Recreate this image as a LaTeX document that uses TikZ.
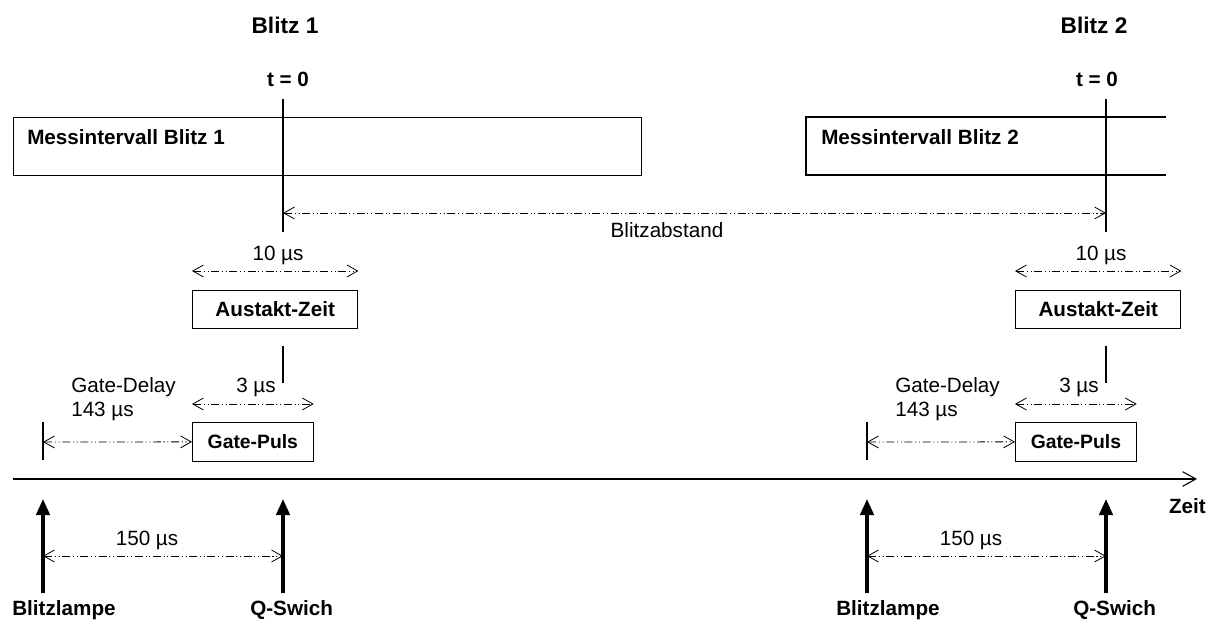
\documentclass[tikz,border=0pt]{standalone}
\usepackage{fontspec}
\setmainfont{Liberation Sans}
\usetikzlibrary{arrows.meta,positioning,calc}

\begin{document}
\begin{tikzpicture}[x=0.75pt,y=-0.75pt,
titel/.style={font=\fontsize{17}{20}\selectfont\bfseries,inner sep=0pt,anchor=base},
fett/.style={font=\fontsize{15.5}{18}\selectfont\bfseries,inner sep=0pt},
normal/.style={font=\fontsize{15.5}{18}\selectfont,inner sep=0pt},
kasten/.style={draw,line width=0.8pt,font=\fontsize{15.5}{18}\selectfont\bfseries,inner sep=0pt,anchor=north west},
linie/.style={line width=0.8pt},
mass/.style={{Straight Barb[length=8pt,width=9pt]}-{Straight Barb[length=8pt,width=9pt]},line width=0.6pt,dash pattern=on 6pt off 2pt on 0.8pt off 2pt on 0.8pt off 2pt},
achse/.style={-{Straight Barb[length=10pt,width=11pt]},line width=0.8pt},
puls/.style={-{Triangle[length=12pt,width=10pt]},line width=2.5pt}
]
\useasboundingbox (0,0) rectangle (1207,624);

% Kopfzeile
\node[titel] (blitz1) at (285,34) {Blitz 1};
\node[titel] (blitz2) at (1094,34) {Blitz 2};
\node[fett,anchor=base] (tnull1) at (288,87) {t = 0};
\node[fett,anchor=base] (tnull2) at (1097,87) {t = 0};

% Messintervalle
\node[kasten,minimum width=471pt,minimum height=43.5pt] (mess1) at (13,117) {};
\node[fett,anchor=base west] (messtext1) at (27,145) {Messintervall Blitz 1};
\coordinate (mess2a) at (1166,117);
\coordinate (mess2b) at (806,175);
\coordinate (mess2c) at (1166,175);
\draw[linie] (mess2a) -| (mess2b) -- (mess2c);
\node[fett,anchor=base west] (messtext2) at (821,145) {Messintervall Blitz 2};

% Zeitachse
\coordinate (achse0) at (13,479);
\coordinate (achse1) at (1197,479);
\draw[achse] (achse0) -- (achse1);
\node[fett,anchor=base east] (zeit) at (1206,513) {Zeit};

% beide Blitze
\foreach \i/\q/\l in {1/283/43,2/1106/867}{
  \coordinate (toben\i) at (\q,99);
  \coordinate (tunten\i) at (\q,232);
  \draw[linie] (toben\i) -- (tunten\i);
  \coordinate (abst\i) at (\q,213);

  \node[kasten,minimum width=124pt,minimum height=28.5pt] (austakt\i) at (\q-91,290) {Austakt-Zeit};
  \coordinate (zehnA\i) at ($(austakt\i.north west)+(0,-19)$);
  \coordinate (zehnB\i) at ($(austakt\i.north east)+(0,-19)$);
  \draw[mass] (zehnA\i) -- (zehnB\i);
  \node[normal,anchor=base] (zehn\i) at (\q-5,260) {10 µs};

  \coordinate (strichA\i) at (\q,346);
  \coordinate (strichB\i) at (\q,383);
  \draw[linie] (strichA\i) -- (strichB\i);

  \node[kasten,minimum width=90.5pt,minimum height=29pt,font=\fontsize{14.5}{18}\selectfont\bfseries] (gate\i) at (\q-91,422) {Gate-Puls};
  \coordinate (dreiA\i) at ($(gate\i.north west)+(0,-18)$);
  \coordinate (dreiB\i) at ($(gate\i.north east)+(0,-18)$);
  \draw[mass] (dreiA\i) -- (dreiB\i);
  \node[normal,anchor=base] (drei\i) at (\q-27,392) {3 µs};

  \node[normal,anchor=base west] (gdelay\i) at (\l+28,392) {Gate-Delay};
  \node[normal,anchor=base west] (gwert\i) at (\l+28,416) {143 µs};
  \coordinate (tickA\i) at (\l,422);
  \coordinate (tickB\i) at (\l,460);
  \coordinate (tickM\i) at (\l,442);
  \draw[linie] (tickA\i) -- (tickB\i);
  \draw[mass] (tickM\i) -- (gate\i.west);

  \coordinate (lampeU\i) at (\l,593);
  \coordinate (lampeO\i) at (\l,499);
  \coordinate (qsU\i) at (\q,593);
  \coordinate (qsO\i) at (\q,499);
  \draw[puls] (lampeU\i) -- (lampeO\i);
  \draw[puls] (qsU\i) -- (qsO\i);
  \coordinate (hundA\i) at (\l,556);
  \coordinate (hundB\i) at (\q,556);
  \draw[mass] (hundA\i) -- (hundB\i);
  \node[normal,anchor=base] (hund\i) at (\l+104,545) {150 µs};

  \node[fett,anchor=base west] (lampe\i) at (\l-31,615) {Blitzlampe};
  \node[fett,anchor=base west] (qswitch\i) at (\q-33,615) {Q-Swich};
}

% Blitzabstand
\draw[mass] (abst1) -- (abst2);
\node[normal,anchor=base] (abstand) at (667,238) {Blitzabstand};
\end{tikzpicture}
\end{document}
